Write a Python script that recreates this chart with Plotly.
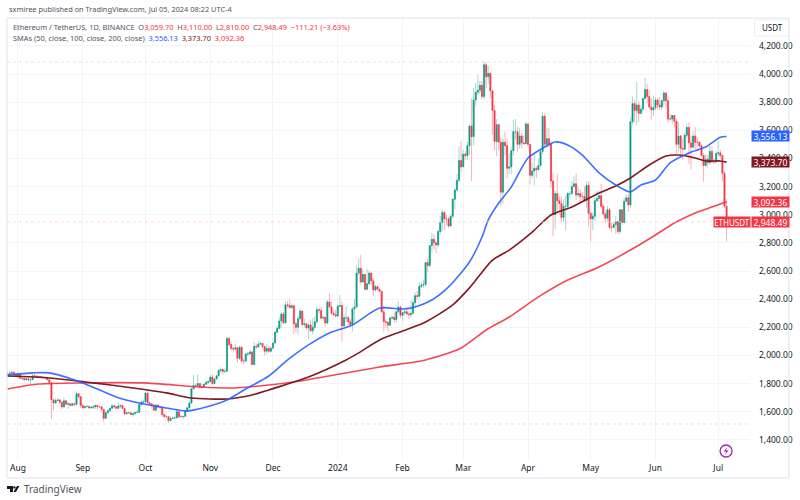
import pandas as pd
import plotly.graph_objects as go

# daily ETHUSDT candles, one row per month (Jul 27 2023 - Jul 5 2024)
closes = [
    1858, 1874, 1880, 1861, 1856,
    1868, 1838, 1836, 1827, 1834, 1826, 1828, 1855, 1853, 1849, 1848, 1847, 1842, 1842, 1827, 1806, 1685, 1662, 1680, 1684, 1668, 1634, 1678, 1653, 1657, 1645, 1656, 1652, 1728, 1706, 1645,
    1628, 1637, 1637, 1628, 1631, 1635, 1645, 1635, 1635, 1617, 1553, 1593, 1607, 1625, 1642, 1635, 1625, 1640, 1645, 1623, 1585, 1593, 1593, 1581, 1587, 1595, 1597, 1652, 1668, 1670,
    1733, 1664, 1656, 1646, 1611, 1647, 1633, 1633, 1580, 1566, 1565, 1538, 1552, 1556, 1556, 1600, 1565, 1565, 1567, 1603, 1628, 1662, 1763, 1786, 1786, 1800, 1777, 1775, 1795, 1809, 1815,
    1846, 1800, 1833, 1855, 1893, 1900, 1886, 1888, 2120, 2077, 2050, 2045, 2055, 1980, 2058, 1960, 1960, 2010, 2012, 2025, 1935, 2064, 2060, 2080, 2085, 2063, 2030, 2050, 2030, 2052,
    2088, 2165, 2192, 2245, 2295, 2232, 2360, 2355, 2340, 2353, 2225, 2200, 2260, 2315, 2220, 2225, 2195, 2217, 2175, 2200, 2240, 2325, 2320, 2265, 2270, 2230, 2380, 2345, 2300, 2290, 2280,
    2350, 2355, 2210, 2268, 2268, 2240, 2220, 2330, 2345, 2585, 2620, 2522, 2575, 2470, 2510, 2585, 2530, 2465, 2490, 2470, 2455, 2310, 2240, 2235, 2215, 2265, 2270, 2255, 2310, 2345, 2285,
    2305, 2310, 2295, 2290, 2300, 2375, 2425, 2420, 2490, 2500, 2505, 2660, 2640, 2780, 2825, 2800, 2785, 2880, 2945, 3015, 2970, 2970, 2920, 2990, 3110, 3175, 3245, 3385, 3340,
    3430, 3420, 3490, 3630, 3555, 3815, 3870, 3885, 3920, 3840, 4065, 3980, 4005, 3880, 3740, 3520, 3640, 3515, 3160, 3515, 3490, 3330, 3340, 3455, 3590, 3590, 3500, 3560, 3510, 3505, 3645,
    3500, 3280, 3310, 3330, 3320, 3350, 3450, 3700, 3500, 3540, 3500, 3240, 3000, 3150, 3100, 3080, 2980, 3060, 3060, 3150, 3150, 3200, 3220, 3140, 3150, 3130, 3130, 3100, 3210, 3010,
    2970, 2990, 3100, 3115, 3135, 3060, 3005, 2975, 3035, 2910, 2910, 2930, 2950, 2880, 3035, 2945, 3095, 3120, 3070, 3660, 3790, 3740, 3780, 3720, 3750, 3825, 3890, 3840, 3765, 3745, 3760,
    3815, 3780, 3765, 3810, 3865, 3810, 3680, 3680, 3705, 3665, 3500, 3560, 3470, 3465, 3565, 3620, 3510, 3480, 3560, 3515, 3515, 3490, 3420, 3350, 3395, 3370, 3450, 3375, 3375, 3435,
    3440, 3420, 3295, 3059.7, 2948.49,
]
highs = [
    1888, 1885, 1886, 1887, 1876,
    1875, 1868, 1845, 1843, 1840, 1838, 1836, 1868, 1870, 1858, 1855, 1852, 1850, 1850, 1848, 1830, 1808, 1690, 1695, 1695, 1690, 1675, 1702, 1682, 1670, 1662, 1665, 1660, 1745, 1730, 1710,
    1650, 1642, 1650, 1642, 1645, 1645, 1650, 1650, 1640, 1636, 1620, 1608, 1618, 1628, 1655, 1645, 1635, 1665, 1650, 1648, 1625, 1598, 1600, 1598, 1590, 1600, 1615, 1658, 1680, 1680,
    1741, 1745, 1670, 1660, 1655, 1655, 1650, 1640, 1632, 1582, 1578, 1570, 1570, 1562, 1565, 1625, 1602, 1580, 1570, 1610, 1632, 1675, 1770, 1860, 1800, 1865, 1805, 1800, 1800, 1820, 1825,
    1860, 1865, 1838, 1862, 1905, 1915, 1905, 1910, 2135, 2135, 2098, 2060, 2085, 2060, 2070, 2065, 1985, 2015, 2025, 2040, 2030, 2095, 2085, 2105, 2095, 2090, 2065, 2080, 2070, 2060,
    2100, 2170, 2210, 2275, 2310, 2310, 2385, 2385, 2400, 2370, 2355, 2240, 2282, 2335, 2320, 2260, 2225, 2225, 2255, 2265, 2275, 2345, 2340, 2345, 2290, 2280, 2395, 2445, 2385, 2320, 2325,
    2360, 2430, 2385, 2295, 2350, 2280, 2260, 2345, 2400, 2640, 2690, 2717, 2615, 2580, 2615, 2605, 2590, 2545, 2500, 2480, 2480, 2460, 2350, 2260, 2245, 2275, 2285, 2305, 2320, 2385, 2350,
    2310, 2330, 2340, 2310, 2390, 2395, 2450, 2460, 2520, 2520, 2540, 2665, 2685, 2785, 2870, 2860, 2815, 2895, 2990, 3035, 3030, 3000, 2985, 3000, 3115, 3190, 3290, 3485, 3525,
    3460, 3450, 3520, 3640, 3825, 3900, 3940, 3995, 3950, 3950, 4085, 4085, 4060, 4010, 3835, 3780, 3680, 3650, 3545, 3540, 3590, 3540, 3435, 3480, 3675, 3680, 3625, 3615, 3580, 3565, 3660,
    3650, 3500, 3370, 3440, 3345, 3400, 3455, 3730, 3720, 3615, 3620, 3525, 3295, 3170, 3290, 3130, 3125, 3110, 3135, 3160, 3165, 3240, 3270, 3295, 3200, 3180, 3160, 3200, 3235, 3240,
    3020, 3015, 3125, 3170, 3170, 3220, 3080, 3020, 3060, 3050, 2945, 2950, 2990, 2955, 3040, 3040, 3120, 3145, 3145, 3690, 3840, 3815, 3945, 3805, 3775, 3840, 3975, 3930, 3885, 3825, 3845,
    3835, 3830, 3835, 3820, 3885, 3870, 3840, 3715, 3710, 3710, 3680, 3660, 3565, 3540, 3585, 3645, 3655, 3560, 3595, 3620, 3550, 3525, 3500, 3440, 3430, 3425, 3490, 3485, 3400, 3450,
    3525, 3460, 3425, 3310, 3110,
]
lows = [
    1850, 1855, 1870, 1852, 1850,
    1835, 1832, 1825, 1815, 1826, 1820, 1795, 1825, 1845, 1840, 1845, 1842, 1835, 1838, 1822, 1790, 1549, 1610, 1660, 1675, 1655, 1620, 1630, 1645, 1620, 1640, 1643, 1635, 1645, 1695, 1625,
    1625, 1625, 1630, 1620, 1620, 1615, 1620, 1615, 1630, 1600, 1530, 1550, 1588, 1600, 1618, 1625, 1620, 1620, 1625, 1620, 1575, 1580, 1585, 1575, 1565, 1575, 1590, 1590, 1640, 1665,
    1665, 1655, 1640, 1620, 1605, 1610, 1630, 1615, 1565, 1555, 1555, 1520, 1532, 1550, 1550, 1555, 1555, 1558, 1545, 1565, 1600, 1620, 1660, 1765, 1770, 1775, 1760, 1765, 1770, 1790, 1795,
    1805, 1790, 1795, 1825, 1845, 1875, 1865, 1875, 1885, 2065, 2035, 2020, 2030, 1950, 1965, 1945, 1935, 1950, 1995, 1995, 1930, 1930, 2045, 2055, 2075, 2050, 2000, 2010, 2020, 2020,
    2050, 2085, 2155, 2190, 2195, 2220, 2230, 2335, 2335, 2335, 2150, 2165, 2150, 2255, 2205, 2200, 2185, 2115, 2165, 2150, 2185, 2225, 2300, 2255, 2245, 2205, 2220, 2335, 2285, 2280, 2270,
    2275, 2340, 2100, 2205, 2240, 2215, 2215, 2170, 2235, 2335, 2570, 2505, 2515, 2465, 2460, 2500, 2500, 2420, 2450, 2460, 2450, 2300, 2170, 2195, 2170, 2210, 2255, 2235, 2235, 2300, 2265,
    2245, 2285, 2290, 2260, 2270, 2290, 2350, 2400, 2410, 2480, 2480, 2490, 2590, 2625, 2730, 2755, 2725, 2770, 2860, 2880, 2890, 2925, 2905, 2915, 2975, 3040, 3165, 3230, 3300,
    3340, 3390, 3390, 3425, 3240, 3490, 3770, 3850, 3860, 3820, 3820, 3900, 3930, 3830, 3570, 3460, 3415, 3455, 3060, 3075, 3420, 3260, 3290, 3290, 3420, 3535, 3450, 3470, 3470, 3495, 3505,
    3480, 3215, 3260, 3210, 3260, 3320, 3345, 3430, 3480, 3480, 3480, 3190, 2850, 2900, 3030, 3000, 2955, 2950, 2890, 3040, 3120, 3140, 3195, 3105, 3120, 3085, 3105, 3090, 3050, 2915,
    2810, 2890, 2955, 3090, 3090, 3045, 2990, 2940, 2950, 2900, 2875, 2905, 2865, 2865, 2860, 2930, 2950, 3090, 3020, 3050, 3640, 3655, 3640, 3660, 3715, 3730, 3825, 3790, 3750, 3675, 3700,
    3740, 3750, 3745, 3745, 3775, 3755, 3655, 3665, 3645, 3620, 3430, 3440, 3425, 3390, 3460, 3545, 3360, 3320, 3470, 3460, 3450, 3475, 3415, 3235, 3340, 3335, 3355, 3375, 3360, 3365,
    3415, 3400, 3240, 3050, 2810,
]

# moving averages, sampled where the curves bend
sma50_dates = ["2023-07-27", "2023-08-08", "2023-08-16", "2023-09-01", "2023-09-17", "2023-09-28", "2023-10-11", "2023-10-21", "2023-10-30", "2023-11-09", "2023-11-18", "2023-11-29", "2023-12-08", "2023-12-18", "2023-12-28", "2024-01-08", "2024-01-21", "2024-02-01", "2024-02-07", "2024-02-15", "2024-02-23", "2024-03-04", "2024-03-10", "2024-03-13", "2024-03-18", "2024-03-24", "2024-04-01", "2024-04-09", "2024-04-14", "2024-04-20", "2024-04-27", "2024-05-05", "2024-05-13", "2024-05-20", "2024-05-25", "2024-06-01", "2024-06-08", "2024-06-17", "2024-06-25", "2024-07-02", "2024-07-05"]
sma50_vals = [1861, 1876, 1876, 1805, 1705, 1662, 1627, 1606, 1634, 1684, 1762, 1854, 1968, 2075, 2160, 2217, 2337, 2330, 2345, 2394, 2487, 2664, 2842, 2963, 3083, 3197, 3403, 3481, 3517, 3496, 3424, 3297, 3211, 3162, 3211, 3247, 3368, 3439, 3481, 3550, 3556.13]

sma100_dates = ["2023-07-27", "2023-08-16", "2023-09-06", "2023-09-25", "2023-10-11", "2023-10-23", "2023-11-09", "2023-11-21", "2023-11-29", "2023-12-18", "2024-01-05", "2024-01-11", "2024-01-21", "2024-02-01", "2024-02-12", "2024-02-25", "2024-03-04", "2024-03-15", "2024-03-23", "2024-04-03", "2024-04-12", "2024-04-22", "2024-05-05", "2024-05-13", "2024-05-20", "2024-05-29", "2024-06-06", "2024-06-12", "2024-06-20", "2024-06-25", "2024-07-02", "2024-07-05"]
sma100_vals = [1854, 1840, 1805, 1769, 1734, 1698, 1691, 1719, 1755, 1847, 1968, 2018, 2110, 2174, 2238, 2359, 2480, 2678, 2749, 2877, 2998, 3055, 3154, 3204, 3261, 3353, 3417, 3424, 3403, 3382, 3382, 3373.7]

sma200_dates = ["2023-07-27", "2023-08-11", "2023-09-01", "2023-09-30", "2023-10-27", "2023-11-12", "2023-11-29", "2023-12-14", "2024-01-02", "2024-01-21", "2024-02-12", "2024-02-29", "2024-03-12", "2024-03-23", "2024-04-06", "2024-04-20", "2024-05-05", "2024-05-20", "2024-06-01", "2024-06-10", "2024-06-20", "2024-06-28", "2024-07-05"]
sma200_vals = [1762, 1797, 1805, 1805, 1776, 1769, 1790, 1819, 1868, 1918, 1968, 2053, 2181, 2273, 2416, 2536, 2629, 2749, 2856, 2941, 3012, 3055, 3092.36]

month_ticks = ["2023-08-01", "2023-09-01", "2023-10-01", "2023-11-01", "2023-12-01", "2024-01-01", "2024-02-01", "2024-03-01", "2024-04-01", "2024-05-01", "2024-06-01", "2024-07-01"]
month_labels = ["Aug", "Sep", "Oct", "Nov", "Dec", "2024", "Feb", "Mar", "Apr", "May", "Jun", "Jul"]

last_price = 2948.49
range_high = 4085
range_low = 1513

UP = "#089981"
DOWN = "#F23645"
UP_WICK = "#a3dad0"
DOWN_WICK = "#fab0b6"
BLUE = "#2962FF"
MAROON = "#801922"
RED = "#F23645"
TEXT = "#131722"
SUB = "#50535E"

dates = pd.date_range("2023-07-27", "2024-07-05", freq="D")
opens = [1860] + closes[:-1]
body_hi = [max(o, c) for o, c in zip(opens, closes)]
body_lo = [min(o, c) for o, c in zip(opens, closes)]

# plot area in page pixels
L, R, T, B = 7, 752, 18, 460


def px(x):
    return (x - L) / (R - L)


def py(y):
    return (B - y) / (B - T)


fig = go.Figure()

# pale wicks first, solid bodies over them
fig.add_trace(go.Candlestick(
    x=dates, open=opens, high=highs, low=lows, close=closes,
    increasing=dict(line=dict(color=UP_WICK, width=1), fillcolor=UP_WICK),
    decreasing=dict(line=dict(color=DOWN_WICK, width=1), fillcolor=DOWN_WICK),
    hoverinfo="skip", showlegend=False,
))
fig.add_trace(go.Candlestick(
    x=dates, open=opens, high=body_hi, low=body_lo, close=closes,
    increasing=dict(line=dict(color=UP, width=0.5), fillcolor=UP),
    decreasing=dict(line=dict(color=DOWN, width=0.5), fillcolor=DOWN),
    hoverinfo="skip", showlegend=False,
))

line_shape = dict(shape="spline", smoothing=0.7, width=1.6)
fig.add_trace(go.Scatter(x=sma200_dates, y=sma200_vals, mode="lines", opacity=0.9,
                         line=dict(color=RED, **line_shape), hoverinfo="skip", showlegend=False))
fig.add_trace(go.Scatter(x=sma100_dates, y=sma100_vals, mode="lines",
                         line=dict(color=MAROON, **line_shape), hoverinfo="skip", showlegend=False))
fig.add_trace(go.Scatter(x=sma50_dates, y=sma50_vals, mode="lines", opacity=0.9,
                         line=dict(color=BLUE, **line_shape), hoverinfo="skip", showlegend=False))


def label(text, x, y, size=7.4, color=TEXT, **kw):
    return dict(text=text, x=px(x), y=py(y), xref="paper", yref="paper", showarrow=False,
                xanchor="left", yanchor="middle", font=dict(size=size, color=color), **kw)


def badge(text, price, bg, center=772.5, width=37, size=8.5):
    return dict(text=text, x=px(center), y=price, xref="paper", yref="y", showarrow=False,
                xanchor="center", yanchor="middle", bgcolor=bg, width=width, height=10, borderpad=0,
                font=dict(size=size, color="white"))


annotations = [
    label("sxmiree published on TradingView.com, Jul 05, 2024 08:22 UTC-4", 7, 9, color=SUB),
    label("Ethereum / TetherUS, 1D, BINANCE&nbsp;&nbsp;O<span style='color:#F23645'>3,059.70</span>&nbsp;&nbsp;"
          "H<span style='color:#F23645'>3,110.00</span>&nbsp;&nbsp;L<span style='color:#F23645'>2,810.00</span>&nbsp;&nbsp;"
          "C<span style='color:#F23645'>2,948.49</span>&nbsp;&nbsp;<span style='color:#F23645'>−111.21 (−3.63%)</span>",
          11, 27, color=SUB),
    label("SMAs (50, close, 100, close, 200, close)&nbsp;&nbsp;<span style='color:#2962FF'>3,556.13</span>&nbsp;&nbsp;"
          "<span style='color:#801922'>3,373.70</span>&nbsp;&nbsp;<span style='color:#F23645'>3,092.36</span>",
          11, 38, color=SUB),
    label("USDT", 762, 27, size=8),
    badge("3,556.13", 3556.13, BLUE),
    badge("3,373.70", 3373.7, MAROON),
    badge("3,092.36", 3092.36, RED),
    badge("ETHUSDT", last_price, RED, center=734, width=36, size=8),
    badge("2,948.49", last_price, RED),
    label("TradingView", 22, 489, size=10, color=SUB),
]

shapes = [
    # frame around the chart
    dict(type="rect", xref="paper", yref="paper", x0=px(7), x1=px(791), y0=py(478), y1=py(18),
         line=dict(color="#e0e3eb", width=1)),
    # currency box, top right
    dict(type="rect", xref="paper", yref="paper", x0=px(756.5), x1=px(791), y0=py(36), y1=py(20),
         line=dict(color="#eceef2", width=1)),
    dict(type="line", xref="paper", yref="y", x0=0, x1=1, y0=last_price, y1=last_price,
         line=dict(color="#fcc8cc", width=0.8, dash="dot")),
    dict(type="line", xref="paper", yref="y", x0=0, x1=1, y0=range_high, y1=range_high,
         line=dict(color="#d9dade", width=0.8, dash="dot")),
    dict(type="line", xref="paper", yref="y", x0=0, x1=1, y0=range_low, y1=range_low,
         line=dict(color="#d9dade", width=0.8, dash="dot")),
    # lightning badge
    dict(type="circle", xref="paper", yref="paper", x0=px(722), x1=px(734), y0=py(457), y1=py(445),
         line=dict(color="#9C27B0", width=1.3), fillcolor="white"),
]


def poly(points, color):
    d = "M " + " L ".join(f"{px(x):.5f},{py(y):.5f}" for x, y in points) + " Z"
    return dict(type="path", xref="paper", yref="paper", path=d, fillcolor=color, line=dict(width=0))


shapes.append(poly([(729, 447.5), (725.5, 451.5), (728, 451.5), (727, 454.5), (730.5, 450.5), (728, 450.5)], "#9C27B0"))
# TradingView logo
shapes.append(poly([(7, 486), (13, 486), (13, 492), (10, 492), (10, 489), (7, 489)], "#131722"))
shapes.append(poly([(13.5, 492), (17, 486), (19.5, 486), (16, 492)], "#131722"))
shapes.append(dict(type="circle", xref="paper", yref="paper", x0=px(13.2), x1=px(15.6), y0=py(488.6), y1=py(486.2),
                   fillcolor="#131722", line=dict(width=0)))

fig.update_layout(
    width=800, height=500,
    margin=dict(l=L, r=800 - R, t=T, b=500 - B),
    paper_bgcolor="white", plot_bgcolor="white",
    font=dict(family="Noto Sans, sans-serif", size=8.5, color=TEXT),
    annotations=annotations, shapes=shapes,
    xaxis=dict(
        type="date", range=["2023-07-26 18:00", "2024-07-16 05:00"],
        rangeslider=dict(visible=False),
        tickvals=month_ticks, ticktext=month_labels, tickangle=0,
        showgrid=True, gridcolor="#f3f4f7", gridwidth=1, zeroline=False, showline=False,
        ticks="", ticklabelstandoff=1, tickfont=dict(size=8.5, color=TEXT),
    ),
    yaxis=dict(
        side="right", range=[1257, 4398], tick0=0, dtick=200, tickformat=",.2f",
        showgrid=True, gridcolor="#f3f4f7", gridwidth=1, zeroline=False, showline=False,
        ticks="", ticklabelstandoff=8, tickfont=dict(size=8.5, color=TEXT),
    ),
)

# the page's default body margin would push the chart 8px down and right
fig.write_html("out.html", config={"displayModeBar": False},
               post_script="document.body.style.margin='0';document.body.style.overflow='hidden';")
